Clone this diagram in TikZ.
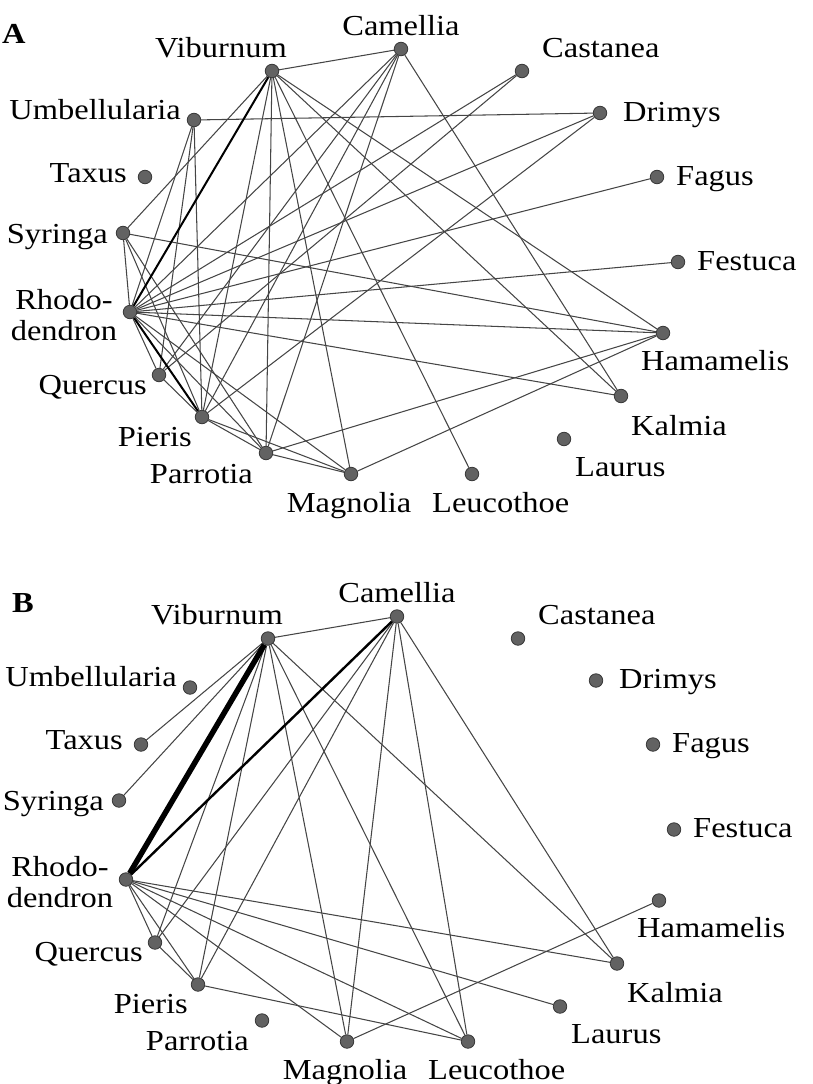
\documentclass[tikz,border=0pt]{standalone}
\usepackage{fontspec}
\setmainfont{Liberation Serif}[FakeStretch=1.12]
\usetikzlibrary{backgrounds}
\definecolor{edgecol}{HTML}{454545}
\definecolor{dotfill}{HTML}{626262}
\definecolor{dotdraw}{HTML}{383838}
\tikzset{
  dot/.style={circle, fill=dotfill, draw=dotdraw, line width=0.8pt, minimum size=13.5pt, inner sep=0pt},
  lab/.style={font=\fontsize{29}{31}\selectfont, inner sep=0pt},
  rlab/.style={lab, anchor=base east},
  llab/.style={lab, anchor=base west},
  clab/.style={lab, anchor=base},
  edge/.style={draw=edgecol, line width=1.05pt},
  wedge/.style={draw=black, line width=2pt},
  xwedge/.style={draw=black, line width=5.5pt},
  panel/.style={font=\fontsize{29}{31}\selectfont\bfseries, inner sep=0pt, anchor=base west}
}
\newcommand\hostnet{%
  \node[dot] (vib) at (272,71) {};
  \node[dot] (cam) at (401,49) {};
  \node[dot] (cas) at (522,71) {};
  \node[dot] (dri) at (600,113) {};
  \node[dot] (fag) at (657,177) {};
  \node[dot] (fes) at (678,262) {};
  \node[dot] (ham) at (663,333) {};
  \node[dot] (kal) at (621,396) {};
  \node[dot] (lau) at (564,439) {};
  \node[dot] (leu) at (472,474) {};
  \node[dot] (mag) at (351,474) {};
  \node[dot] (par) at (266,453) {};
  \node[dot] (pie) at (202,417) {};
  \node[dot] (que) at (159,375) {};
  \node[dot] (rho) at (130,312) {};
  \node[dot] (syr) at (123,233) {};
  \node[dot] (tax) at (145,177) {};
  \node[dot] (umb) at (194,120) {};
  \node[clab] (vib-l) at (221,57) {Viburnum};
  \node[clab] (cam-l) at (401,35) {Camellia};
  \node[llab] (cas-l) at (542,57) {Castanea};
  \node[llab] (dri-l) at (623,121) {Drimys};
  \node[llab] (fag-l) at (676,185) {Fagus};
  \node[llab] (fes-l) at (697,270) {Festuca};
  \node[llab] (ham-l) at (641,370) {Hamamelis};
  \node[llab] (kal-l) at (631,435) {Kalmia};
  \node[llab] (lau-l) at (575,476) {Laurus};
  \node[llab] (leu-l) at (432,512) {Leucothoe};
  \node[clab] (mag-l) at (349,512) {Magnolia};
  \node[rlab] (par-l) at (253,483) {Parrotia};
  \node[rlab] (pie-l) at (192,446) {Pieris};
  \node[rlab] (que-l) at (147,394) {Quercus};
  \node[lab, align=center] (rho-l) at (64,315) {Rhodo-\\dendron};
  \node[rlab] (syr-l) at (108,243) {Syringa};
  \node[rlab] (tax-l) at (127,182) {Taxus};
  \node[rlab] (umb-l) at (181,119) {Umbellularia};
}
\begin{document}
\begin{tikzpicture}[x=1pt,y=-1pt]
\useasboundingbox (0,0) rectangle (813,1084);
\begin{scope}[name prefix=A-]
  \hostnet
\end{scope}
\begin{scope}[name prefix=B-, shift={(-4,567.5)}]
  \hostnet
\end{scope}
\node[panel] (pA) at (2,43) {A};
\node[panel] (pB) at (12,612) {B};
\begin{scope}[on background layer]
  \foreach \a/\b in {vib/cam, vib/syr, vib/pie, vib/par, vib/mag, vib/leu, vib/kal, vib/ham,
      cam/kal, cam/rho, cam/que, cam/pie, cam/par, cas/rho, cas/que, dri/umb, dri/rho, dri/pie,
      fag/rho, fes/rho, ham/syr, ham/rho, ham/par, ham/mag, kal/rho, umb/rho, umb/que, umb/pie,
      syr/rho, syr/pie, syr/par, rho/que, rho/par, rho/mag, que/pie, pie/par, pie/mag, par/mag}
    \draw[edge] (A-\a) -- (A-\b);
  \draw[wedge] (A-vib) -- (A-rho);
  \draw[wedge] (A-rho) -- (A-pie);
  \foreach \a/\b in {vib/cam, vib/tax, vib/syr, vib/que, vib/pie, vib/mag, vib/leu, vib/kal,
      cam/que, cam/pie, cam/mag, cam/leu, cam/kal, rho/que, rho/pie, rho/mag, rho/leu, rho/lau,
      rho/kal, que/pie, pie/leu, ham/mag}
    \draw[edge] (B-\a) -- (B-\b);
  \draw[wedge, line width=2.4pt] (B-cam) -- (B-rho);
  \draw[xwedge] (B-vib) -- (B-rho);
\end{scope}
\end{tikzpicture}
\end{document}
